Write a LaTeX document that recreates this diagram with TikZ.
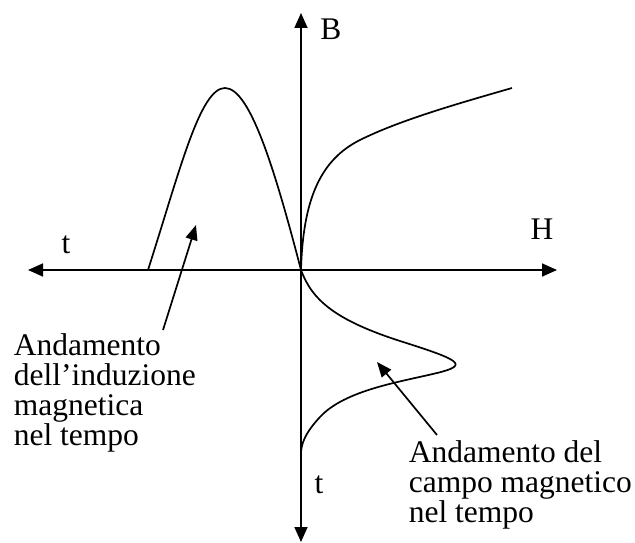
\documentclass[tikz,border=0pt]{standalone}
\usepackage{fontspec}
\setmainfont{Liberation Serif}
\usetikzlibrary{arrows.meta}

\begin{document}
\begin{tikzpicture}[x=1pt,y=-1pt,line width=1.7pt,
  axis/.style={{Triangle[length=15pt,width=13pt]}-{Triangle[length=15pt,width=13pt]}},
  ptr/.style={-{Triangle[length=15pt,width=12pt]}},
  lbl/.style={inner sep=0pt,font=\fontsize{31.5}{30}\selectfont},
  txt/.style={lbl,align=left,anchor=north west}]
  \useasboundingbox (0,0) rectangle (635,543);
  % axes
  \coordinate (O) at (301,270);
  \coordinate (tL) at (28,270);
  \coordinate (hR) at (557,270);
  \coordinate (bT) at (301,13);
  \coordinate (tD) at (301,542);
  \draw[axis] (tL) -- (hR);
  \draw[axis] (tD) -- (bT);
  \node[lbl] (lB) at (331,29) {B};
  \node[lbl] (lH) at (542,229) {H};
  \node[lbl] (lt1) at (66,245) {t};
  \node[lbl] (lt2) at (319,485) {t};
  % B(t), B(H) and H(t)
  \draw (148,270) .. controls (180,170) and (200,88) .. (225,88)
    .. controls (250,88) and (275,170) .. (O);
  \draw (O) .. controls (303,200) and (320,160) .. (360,140)
    .. controls (400,120) and (460,103) .. (512,88);
  \draw (O) .. controls (312,300) and (335,320) .. (400,341)
    .. controls (460,360) and (470,365) .. (437,373)
    .. controls (400,382) and (345,390) .. (320,417)
    .. controls (308,430) and (302,440) .. (301,452);
  % labels
  \node[txt] (ind) at (13,333) {Andamento\\dell'induzione\\magnetica\\nel tempo};
  \node[txt] (campo) at (408,440) {Andamento del\\campo magnetico\\nel tempo};
  \coordinate (indTail) at (163,330);
  \coordinate (indTip) at (196,225);
  \coordinate (campoTail) at (437,435);
  \coordinate (campoTip) at (377,362);
  \draw[ptr] (indTail) -- (indTip);
  \draw[ptr] (campoTail) -- (campoTip);
\end{tikzpicture}
\end{document}
